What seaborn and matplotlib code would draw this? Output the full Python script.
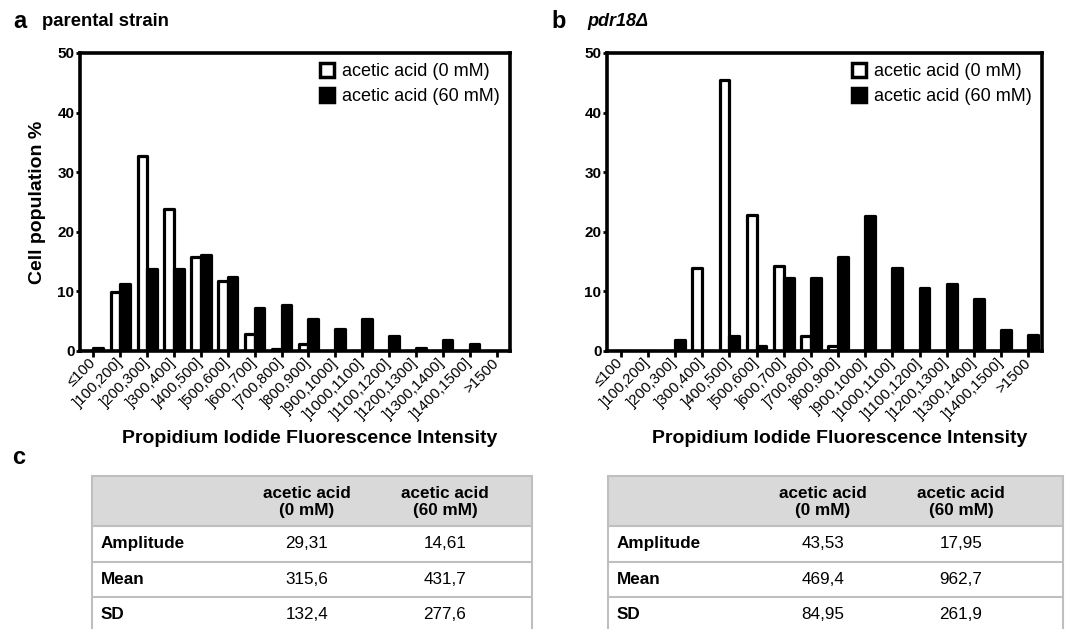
import numpy as np
import pandas as pd
import matplotlib
matplotlib.use('Agg')
import matplotlib.pyplot as plt
from matplotlib.lines import Line2D
from matplotlib.patches import Rectangle
import seaborn as sns

# ── DATA ─────────────────────────────────────────────────────────────────────
BINS = ['≤100', ']100,200]', ']200,300]', ']300,400]', ']400,500]', ']500,600]',
        ']600,700]', ']700,800]', ']800,900]', ']900,1000]', ']1000,1100]',
        ']1100,1200]', ']1200,1300]', ']1300,1400]', ']1400,1500]', '>1500']
CONDS = ['acetic acid (0 mM)', 'acetic acid (60 mM)']

parental_0mM = [0, 9.9, 32.7, 23.9, 15.8, 11.7, 2.9, 0.4, 1.1, 0, 0, 0, 0, 0, 0, 0]
parental_60mM = [0.5, 11.3, 13.8, 13.8, 16.1, 12.5, 7.2, 7.8, 5.4, 3.7, 5.4, 2.5, 0.5, 1.8, 1.2, 0]
pdr18_0mM = [0, 0, 0, 13.9, 45.4, 22.9, 14.3, 2.6, 0.9, 0, 0, 0, 0, 0, 0, 0]
pdr18_60mM = [0, 0, 1.8, 0, 2.6, 0.9, 12.2, 12.2, 15.7, 22.6, 14.0, 10.6, 11.3, 8.7, 3.5, 2.7]

TABLE_COLS = ['acetic acid\n(0 mM)', 'acetic acid\n(60 mM)']
TABLE_ROWS = ['Amplitude', 'Mean', 'SD']
parental_stats = [['29,31', '14,61'], ['315,6', '431,7'], ['132,4', '277,6']]
pdr18_stats = [['43,53', '17,95'], ['469,4', '962,7'], ['84,95', '261,9']]


def long_df(v0, v60):
    return pd.DataFrame({
        'bin': BINS * 2,
        'pct': list(v0) + list(v60),
        'cond': [CONDS[0]] * len(BINS) + [CONDS[1]] * len(BINS),
    })


sns.set_style('white')
plt.rcParams['font.family'] = ['Liberation Sans', 'DejaVu Sans']
plt.rcParams.update({'text.color': 'black', 'axes.labelcolor': 'black',
                     'xtick.color': 'black', 'ytick.color': 'black'})

fig = plt.figure(figsize=(10.67, 6.29), dpi=100)
W, H = 1067, 629


def draw_panel(ax, df):
    sns.barplot(data=df, x='bin', y='pct', hue='cond', order=BINS, hue_order=CONDS,
                palette=['white', 'black'], edgecolor='black', linewidth=2.3,
                width=0.72, saturation=1, ax=ax, legend=False)
    for p in ax.patches:
        p.set_joinstyle('round')
    ax.set_xlim(-0.5, len(BINS) - 0.5)
    ax.set_ylim(0, 50)
    ax.set_yticks([0, 10, 20, 30, 40, 50])
    for s in ax.spines.values():
        s.set_linewidth(2.6)
        s.set_color('black')
    ax.tick_params(axis='x', direction='out', length=4, width=2, bottom=True, pad=3)
    ax.tick_params(axis='y', direction='out', length=3, width=2, left=True, pad=1)
    ax.set_xticks(range(len(BINS)))
    ax.set_xticklabels(BINS, rotation=45, ha='right', va='center',
                       rotation_mode='anchor', fontsize=10.8)
    for lab in ax.get_yticklabels():
        lab.set_fontweight('bold')
        lab.set_fontsize(11)
    ax.set_xlabel('Propidium Iodide Fluorescence Intensity', fontsize=14,
                  fontweight='bold')
    ax.xaxis.set_label_coords(0.535, -0.265)
    ax.set_ylabel('')
    handles = [Line2D([], [], marker='s', ls='', markersize=9.5, markerfacecolor='white',
                      markeredgecolor='black', markeredgewidth=2.5),
               Line2D([], [], marker='s', ls='', markersize=9.5, markerfacecolor='black',
                      markeredgecolor='black', markeredgewidth=2.5)]
    ax.legend(handles, CONDS, loc='upper right', frameon=False, fontsize=13,
              handlelength=1.0, handletextpad=0.36, borderaxespad=0.15,
              labelspacing=0.45, bbox_to_anchor=(1.0, 1.0))


ax_a = fig.add_axes([80 / W, 1 - 351 / H, 430 / W, 298 / H])
draw_panel(ax_a, long_df(parental_0mM, parental_60mM))
ax_a.set_ylabel('Cell population %', fontsize=14, fontweight='bold', labelpad=8)

ax_b = fig.add_axes([607 / W, 1 - 351 / H, 435 / W, 298 / H])
draw_panel(ax_b, long_df(pdr18_0mM, pdr18_60mM))

# panel letters and titles
fig.text(13 / W, 1 - 21 / H, 'a', fontsize=17, fontweight='bold', va='center')
fig.text(42 / W, 1 - 22 / H, 'parental strain', fontsize=13.3, fontweight='bold', va='center')
fig.text(551 / W, 1 - 21 / H, 'b', fontsize=17, fontweight='bold', va='center')
fig.text(587 / W, 1 - 22 / H, 'pdr18Δ', fontsize=13, fontweight='bold', style='italic',
         va='center')
fig.text(12 / W, 1 - 458 / H, 'c', fontsize=17, fontweight='bold', va='center')

# ── TABLES ───────────────────────────────────────────────────────────────────
tab = fig.add_axes([0, 0, 1, 1])
tab.set_xlim(0, W)
tab.set_ylim(H, 0)
tab.axis('off')
tab.patch.set_alpha(0)


def draw_table(x0, x1, stats):
    top, head_bot, row_h = 476, 526, 35.5
    grid = '#bfbfbf'
    tab.add_patch(Rectangle((x0, top), x1 - x0, head_bot - top, facecolor='#d9d9d9',
                            edgecolor='none'))
    tab.plot([x0, x1], [top, top], color=grid, lw=1.5)
    tab.plot([x0, x0], [top, H], color=grid, lw=1.5)
    tab.plot([x1, x1], [top, H], color=grid, lw=1.5)
    tab.plot([x0, x1], [head_bot, head_bot], color=grid, lw=1.5)
    cx = [x0 + 215, x0 + 353]
    for c, col in zip(cx, TABLE_COLS):
        tab.text(c, (top + head_bot) / 2 + 1, col, ha='center', va='center',
                 fontsize=12.3, fontweight='bold', linespacing=1.1)
    for i, (rname, vals) in enumerate(zip(TABLE_ROWS, stats)):
        y0 = head_bot + i * row_h
        if i > 0:
            tab.plot([x0, x1], [y0, y0], color=grid, lw=1.5)
        yc = y0 + row_h / 2
        tab.text(x0 + 9, yc, rname, ha='left', va='center', fontsize=12.3, fontweight='bold')
        for c, v in zip(cx, vals):
            tab.text(c, yc, v, ha='center', va='center', fontsize=12.3)


draw_table(92, 532, parental_stats)
draw_table(608, 1063, pdr18_stats)

fig.savefig('out.png', dpi=100)
